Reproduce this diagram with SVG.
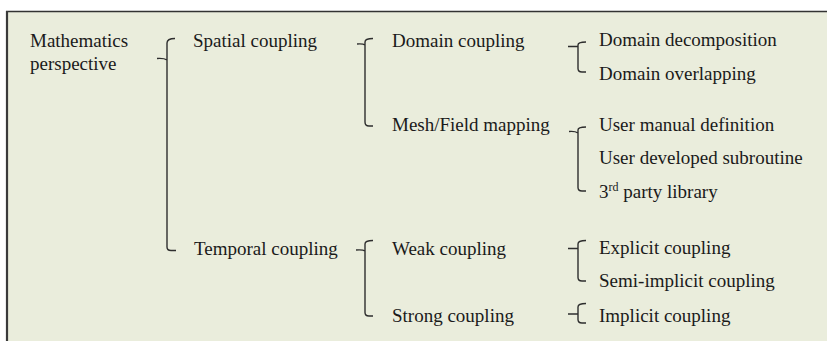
<svg xmlns="http://www.w3.org/2000/svg" width="827" height="341" viewBox="0 0 827 341">
<style>
text{font-family:"Liberation Serif","Times New Roman",serif;font-size:19px;fill:#1a1a1a}
.br{fill:none;stroke:#2e2e2e;stroke-width:1.4}
.sup{font-size:12px}
</style>
<rect x="0" y="0" width="827" height="341" fill="#ffffff"/>
<rect x="7" y="11.5" width="822" height="332" fill="#eaeddc"/>
<line x1="6" y1="11.5" x2="827" y2="11.5" stroke="#333" stroke-width="1.5"/>
<line x1="7" y1="11" x2="7" y2="341" stroke="#3a3a3a" stroke-width="2.2"/>
<g id="connectors">
<path class="br" d="M175 38.5 Q167 38.5 167 43 L167 247 Q167 250.5 171 250.5 L176 250.5 M157 58.5 Q164 58 167 60"/>
<path class="br" d="M373 38.5 Q365 38.5 365 42 L365 122 Q365 126 369 126 L373 126 M357 44 Q363 43.5 365 45"/>
<path class="br" d="M586 42 Q578 42 578 45 L578 68.5 Q578 72 582 72 L586 72 M568 46.5 L578 46.5"/>
<path class="br" d="M586 127 Q578 127 578 130 L578 187.5 Q578 191 582 191 L586 191 M569 131.5 Q575 131 578 133"/>
<path class="br" d="M373 240.5 Q365 240.5 365 244 L365 312.5 Q365 316 369 316 L373 316 M356 250 Q363 249.5 365 251"/>
<path class="br" d="M586 240.5 Q578 240.5 578 244 L578 277.5 Q578 281 582 281 L586 281 M568 248.5 L578 248.5"/>
<path class="br" d="M586 303.5 Q578 303.5 578 307 L578 319.5 Q578 323 582 323 L586 323 M568 314 L578 314"/>
</g>
<g id="n-math"><text x="30" y="47">Mathematics</text><text x="30" y="70">perspective</text></g>
<g id="n-spatial"><text x="193" y="47">Spatial coupling</text></g>
<g id="n-temporal"><text x="194" y="255">Temporal coupling</text></g>
<g id="n-domain"><text x="392" y="47">Domain coupling</text></g>
<g id="n-mesh"><text x="392" y="131">Mesh/Field mapping</text></g>
<g id="n-weak"><text x="392" y="255">Weak coupling</text></g>
<g id="n-strong"><text x="392" y="322">Strong coupling</text></g>
<g id="n-decomp"><text x="599" y="46">Domain decomposition</text></g>
<g id="n-overlap"><text x="599" y="80">Domain overlapping</text></g>
<g id="n-manual"><text x="599" y="131">User manual definition</text></g>
<g id="n-subroutine"><text x="599" y="164">User developed subroutine</text></g>
<g id="n-library"><text x="599" y="198">3<tspan class="sup" dy="-7">rd</tspan><tspan dy="7"> party library</tspan></text></g>
<g id="n-explicit"><text x="599" y="254">Explicit coupling</text></g>
<g id="n-semi"><text x="599" y="287">Semi-implicit coupling</text></g>
<g id="n-implicit"><text x="599" y="322">Implicit coupling</text></g>
</svg>
